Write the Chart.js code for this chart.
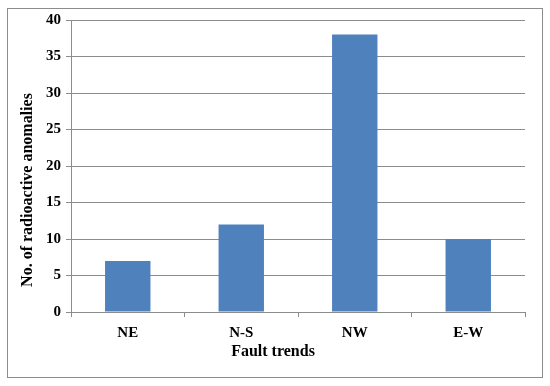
<!DOCTYPE html>
<html><head><meta charset="utf-8">
<script src="https://cdn.jsdelivr.net/npm/chart.js@4"></script>
<style>html,body{margin:0;padding:0;background:#fff}#wrap{width:550px;height:386px;position:relative}</style>
</head><body><div id="wrap"><canvas id="c" width="550" height="386"></canvas></div>
<script>
const categories = ["NE", "N-S", "NW", "E-W"];
const anomalies = [7, 12, 38, 10];
const yTicks = [0, 5, 10, 15, 20, 25, 30, 35, 40];
const xTitle = "Fault trends";
const yTitle = "No. of radioactive anomalies";

const fontFam = "'Liberation Serif', 'Times New Roman', serif";
const borderPlugin = {
  id: 'outerBorder',
  beforeDraw(chart) {
    const ctx = chart.ctx;
    ctx.save();
    ctx.fillStyle = '#fff';
    ctx.fillRect(0, 0, chart.width, chart.height);
    ctx.strokeStyle = '#8c8c8c';
    ctx.lineWidth = 1;
    ctx.strokeRect(7.5, 8.5, 535, 369);
    ctx.restore();
  },
  afterDraw(chart) {
    const ctx = chart.ctx;
    ctx.save();
    ctx.fillStyle = '#000';
    ctx.font = "bold 16px " + fontFam;
    ctx.textAlign = 'center';
    ctx.textBaseline = 'middle';
    ctx.fillText(xTitle, 273, 352);
    ctx.translate(28, 190);
    ctx.rotate(-Math.PI / 2);
    ctx.fillText(yTitle, 0, 0);
    ctx.restore();
  }
};

new Chart(document.getElementById('c'), {
  type: 'bar',
  data: {
    labels: categories,
    datasets: [{ data: anomalies, backgroundColor: '#4f81bd', borderWidth: 0, categoryPercentage: 1, barPercentage: 0.4 }]
  },
  options: {
    responsive: false,
    animation: false,
    events: [],
    layout: { padding: { left: 0, right: 25, top: 20, bottom: 0 } },
    plugins: { legend: { display: false }, tooltip: { enabled: false } },
    scales: {
      x: {
        grid: { drawOnChartArea: false, drawTicks: true, tickLength: 5, color: '#8c8c8c' },
        border: { color: '#8c8c8c' },
        ticks: { color: '#000', font: { family: fontFam, size: 15, weight: 'bold' }, padding: 7 },
        afterFit(s) { s.height = 74; }
      },
      y: {
        min: 0, max: 40,
        afterBuildTicks(s) { s.ticks = yTicks.map(v => ({ value: v })); },
        grid: { color: '#8c8c8c', tickLength: 5 },
        border: { color: '#8c8c8c' },
        ticks: { color: '#000', font: { family: fontFam, size: 15, weight: 'bold' }, padding: 5 },
        afterFit(s) { s.width = 71; }
      }
    }
  },
  plugins: [borderPlugin]
});
</script></body></html>
